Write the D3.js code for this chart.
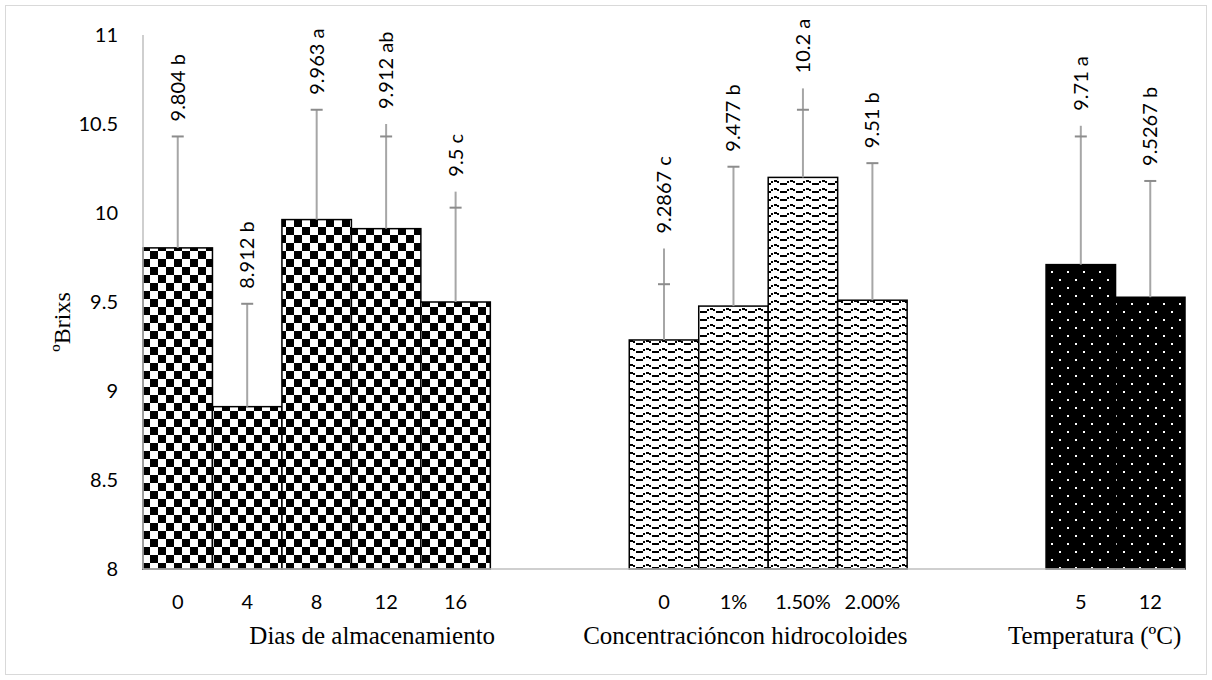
<!DOCTYPE html>
<html>
<head>
<meta charset="utf-8">
<script src="https://cdn.jsdelivr.net/npm/d3@7"></script>
<style>
  body { margin: 0; background: #fff; }
  .tick text { font-family: Lato, "Open Sans", sans-serif; fill: #000; }
  .lbl { font-family: Lato, "Open Sans", sans-serif; font-size: 20px; fill: #000; }
  .serif { font-family: "Liberation Serif", "Times New Roman", serif; fill: #000; }
</style>
</head>
<body>
<div id="chart"></div>
<script>
// slots of the category axis (empty slots make the gaps between groups)
const slots = ["d0", "d4", "d8", "d12", "d16", "g1", "g2", "c0", "c1", "c15", "c20", "g3", "g4", "t5", "t12"];
const tickLabels = ["0", "4", "8", "12", "16", "", "", "0", "1%", "1.50%", "2.00%", "", "", "5", "12"];
const groupOf = [0, 0, 0, 0, 0, -1, -1, 1, 1, 1, 1, -1, -1, 2, 2];
const means = [9.804, 8.912, 9.963, 9.912, 9.5, null, null, 9.2867, 9.477, 10.2, 9.51, null, null, 9.71, 9.5267];
const errCap = [10.43, 9.49, 10.58, 10.43, 10.03, null, null, 9.60, 10.26, 10.58, 10.28, null, null, 10.43, 10.18];
const errTop = [10.43, 9.49, 10.58, 10.50, 10.12, null, null, 9.80, 10.26, 10.70, 10.28, null, null, 10.49, 10.18];
const dataLabels = ["9.804 b", "8.912 b", "9.963  a", "9.912 ab", "9.5 c", "", "", "9.2867 c", "9.477 b", "10.2 a", "9.51 b", "", "", "9.71 a", "9.5267 b"];
const groupTitles = ["Dias de almacenamiento", "Concentracióncon hidrocoloides", "Temperatura (ºC)"];
const groupTitleSlot = [3.3, 8.67, 13.7];   // centre of each title, in slot units
const yTicks = [8, 8.5, 9, 9.5, 10, 10.5, 11];

const W = 1212, H = 680;
const margin = {top: 35, right: 27, bottom: 111, left: 143};
const width = W - margin.left - margin.right;
const height = H - margin.top - margin.bottom;

const svg = d3.select('#chart').append('svg')
  .attr('width', W)
  .attr('height', H);

// outer frame
svg.append('rect')
  .attr('x', 5.5).attr('y', 5.5)
  .attr('width', W - 11).attr('height', H - 11)
  .attr('fill', 'none')
  .attr('stroke', '#d9d9d9');

// fill patterns
const defs = svg.append('defs');

const checker = defs.append('pattern')
  .attr('id', 'checker')
  .attr('patternUnits', 'userSpaceOnUse')
  .attr('x', margin.left).attr('y', 0)
  .attr('width', 16).attr('height', 16);
checker.append('rect').attr('width', 16).attr('height', 16).attr('fill', '#fff');
checker.append('rect').attr('width', 8).attr('height', 8).attr('fill', '#000');
checker.append('rect').attr('x', 8).attr('y', 8).attr('width', 8).attr('height', 8).attr('fill', '#000');

const wave = defs.append('pattern')
  .attr('id', 'wave')
  .attr('patternUnits', 'userSpaceOnUse')
  .attr('width', 16).attr('height', 8);
wave.append('rect').attr('width', 16).attr('height', 8).attr('fill', '#fff');
[[0, 4, 4, 2], [4, 2, 2, 2], [7, 1, 3, 2], [10, 2, 2, 2], [13, 4, 3, 2]].forEach(r => {
  wave.append('rect')
    .attr('x', r[0]).attr('y', r[1])
    .attr('width', r[2]).attr('height', r[3])
    .attr('fill', '#000');
});

const dots = defs.append('pattern')
  .attr('id', 'dots')
  .attr('patternUnits', 'userSpaceOnUse')
  .attr('width', 16).attr('height', 16);
dots.append('rect').attr('width', 16).attr('height', 16).attr('fill', '#000');
dots.append('rect').attr('x', 4).attr('y', 4).attr('width', 2).attr('height', 2).attr('fill', '#fff');
dots.append('rect').attr('x', 12).attr('y', 12).attr('width', 2).attr('height', 2).attr('fill', '#fff');

const fills = ['url(#checker)', 'url(#wave)', 'url(#dots)'];

const main = svg.append('g')
  .attr('transform', `translate(${margin.left},${margin.top})`);

const x = d3.scaleBand()
  .domain(d3.range(slots.length))
  .range([0, width])
  .paddingInner(0)
  .paddingOuter(0);

const y = d3.scaleLinear()
  .domain([8, 11])
  .range([height, 0]);

// axes
const yAxis = d3.axisLeft(y).tickValues(yTicks).tickSize(0).tickPadding(25).tickFormat(d3.format('~g'));
main.append('g')
  .attr('class', 'y axis')
  .call(yAxis)
  .call(g => g.select('.domain').remove())
  .selectAll('text').style('font-size', '20px');

const xAxis = d3.axisBottom(x).tickSize(0).tickPadding(26).tickFormat(i => tickLabels[i]);
main.append('g')
  .attr('class', 'x axis')
  .attr('transform', `translate(0,${height})`)
  .call(xAxis)
  .call(g => g.select('.domain').remove())
  .selectAll('text').style('font-size', '20px');

const idx = d3.range(slots.length).filter(i => means[i] !== null);

// bars
main.append('g').selectAll('rect')
  .data(idx)
  .enter()
  .append('rect')
  .attr('x', i => x(i))
  .attr('y', i => y(means[i]))
  .attr('width', x.bandwidth())
  .attr('height', i => height - y(means[i]))
  .attr('fill', i => fills[groupOf[i]])
  .attr('stroke', '#000')
  .attr('stroke-width', 1.5);

// axis lines drawn above the bars
main.append('line')
  .attr('x1', 0).attr('x2', 0)
  .attr('y1', 0).attr('y2', height)
  .attr('stroke', '#bfbfbf').attr('stroke-width', 1.5);
main.append('line')
  .attr('x1', 0).attr('x2', width)
  .attr('y1', height).attr('y2', height)
  .attr('stroke', '#bfbfbf').attr('stroke-width', 1.5);

// error bars
const err = main.append('g').selectAll('g')
  .data(idx)
  .enter()
  .append('g')
  .attr('transform', i => `translate(${x(i) + x.bandwidth() / 2},0)`);

err.append('line')
  .attr('y1', i => y(means[i]))
  .attr('y2', i => y(errTop[i]))
  .attr('stroke', '#a6a6a6')
  .attr('stroke-width', 2);

err.append('line')
  .attr('x1', -6).attr('x2', 6)
  .attr('y1', i => y(errCap[i]))
  .attr('y2', i => y(errCap[i]))
  .attr('stroke', '#8c8c8c')
  .attr('stroke-width', 2);

// data labels, rotated
err.append('text')
  .attr('class', 'lbl')
  .attr('transform', i => `translate(7,${y(errTop[i]) - 15}) rotate(-90)`)
  .attr('text-anchor', 'start')
  .text(i => dataLabels[i]);

// group titles
main.append('g').selectAll('text')
  .data(groupTitles)
  .enter()
  .append('text')
  .attr('class', 'serif')
  .attr('x', (d, i) => groupTitleSlot[i] * x.step())
  .attr('y', height + 75)
  .attr('text-anchor', 'middle')
  .style('font-size', '25px')
  .text(d => d);

// y title
svg.append('text')
  .attr('class', 'serif')
  .attr('transform', `translate(70,${margin.top + height / 2 + 20}) rotate(-90)`)
  .attr('text-anchor', 'middle')
  .style('font-size', '24px')
  .text('ºBrixs');
</script>
</body>
</html>
